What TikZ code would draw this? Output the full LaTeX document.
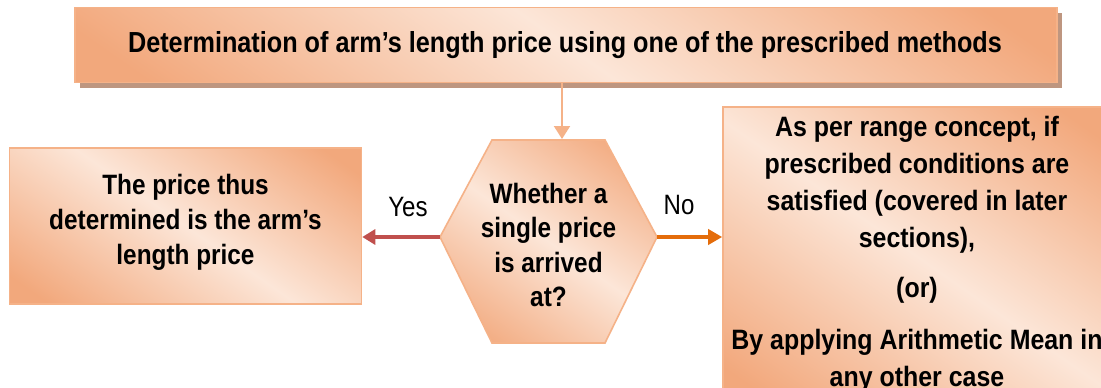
\documentclass[tikz,border=0pt]{standalone}
\usepackage{fontspec}
\setmainfont{Liberation Sans}
\newfontfamily\narrowbold[FakeStretch=0.87]{Liberation Sans Bold}
\newfontfamily\widerbold[FakeStretch=0.89]{Liberation Sans Bold}
\newfontfamily\narrowreg[FakeStretch=0.86]{Liberation Sans}
\usetikzlibrary{arrows.meta,shapes.geometric,shadows}
\definecolor{pdark}{RGB}{242,168,124}
\definecolor{plight}{RGB}{252,230,216}
\definecolor{pborder}{RGB}{245,178,136}
\definecolor{shadowc}{RGB}{190,150,128}
\definecolor{yesred}{RGB}{192,80,77}
\definecolor{noorange}{RGB}{228,108,10}
\pgfdeclareverticalshading{peach}{100bp}{color(0bp)=(pdark); color(20bp)=(pdark); color(50bp)=(plight); color(80bp)=(pdark); color(100bp)=(pdark)}
\tikzset{
  box/.style={draw=pborder, line width=1.6pt, shading=peach, shading angle=-35, align=center, inner sep=0pt},
  boxtext/.style={font=\narrowbold\fontsize{28}{35}\selectfont, align=center, inner sep=0pt},
  lbl/.style={font=\narrowreg\fontsize{28}{30}\selectfont, inner sep=0pt},
}
\begin{document}
\begin{tikzpicture}[x=1pt,y=-1pt]
\clip (0,0) rectangle (1101,388);
\fill[white] (0,0) rectangle (1101,388);
% top box
\fill[shadowc] (80,13) rectangle (1062,88);
\node[box, minimum width=982pt, minimum height=75pt] (top) at (566,45) {};
\node[font=\narrowbold\fontsize{29}{32}\selectfont, inner sep=0pt] (toptext) at (565,45) {Determination of arm’s length price using one of the prescribed methods};
% hexagon
\path[box] (492,140) -- (605,140) -- (657,237) -- (605,343) -- (492,343) -- (440,237) -- cycle;
\coordinate (hexN) at (562,139);
\coordinate (hexW) at (440,237);
\coordinate (hexE) at (657,237);
\node[boxtext, font=\narrowbold\fontsize{28}{34.5}\selectfont] (hex) at (548.5,245) {Whether a\\single price\\is arrived\\at?};
% left box
\node[box, minimum width=352pt, minimum height=156pt] (left) at (185.5,226) {};
\node[boxtext] (lefttext) at (185.5,222) {The price thus\\determined is the arm’s\\length price};
% right box
\node[box, minimum width=390pt, minimum height=300pt] (right) at (918,257) {};
\node[boxtext, font=\widerbold\fontsize{28}{37}\selectfont, anchor=north] (rtext) at (917,116) {As per range concept, if\\prescribed conditions are\\satisfied (covered in later\\sections),\\[13pt](or)\\[15pt]By applying Arithmetic Mean in\\any other case};
% connectors
\draw[pborder, line width=2pt, -{Triangle[length=13pt,width=16pt]}] (top.south -| hexN) -- (hexN);
\draw[yesred, line width=4pt, -{Triangle[length=13pt,width=15pt]}] (hexW) -- (left.east |- hexW);
\draw[noorange, line width=4pt, -{Triangle[length=14pt,width=15pt]}] (hexE) -- (right.west |- hexE);
\node[lbl] (yes) at (408,207) {Yes};
\node[lbl] (no) at (679,205) {No};
\end{tikzpicture}
\end{document}
